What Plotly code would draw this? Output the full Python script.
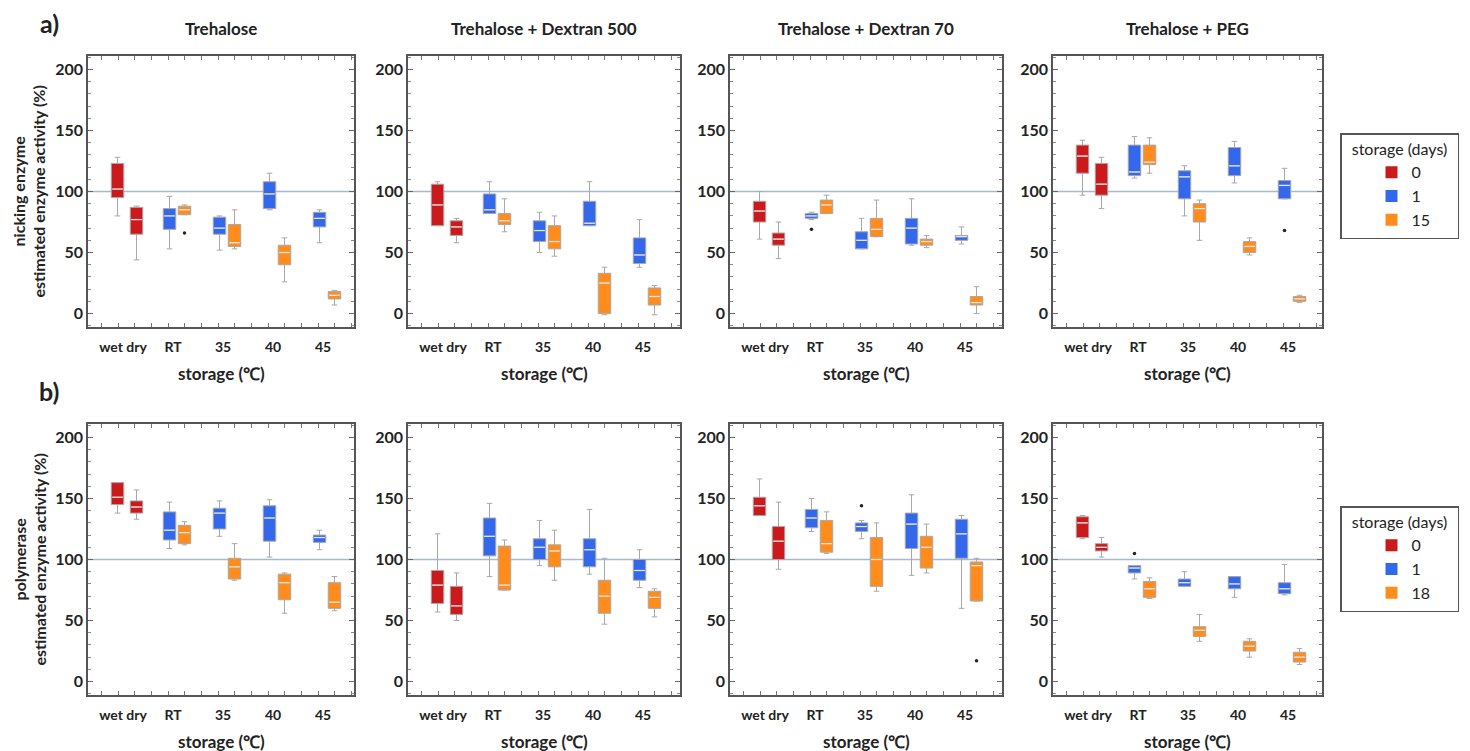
import plotly.graph_objects as go

# ---------------- data ----------------
X_LABELS = ["wet dry", "RT", "35", "40", "45"]
GROUP = [0, 0, 1, 1, 2, 2, 3, 3, 4, 4]
DAYS_A = ["0", "0", "1", "15", "1", "15", "1", "15", "1", "15"]
DAYS_B = ["0", "0", "1", "18", "1", "18", "1", "18", "1", "18"]
LEGEND_A = ["0", "1", "15"]
LEGEND_B = ["0", "1", "18"]
TITLES = ["Trehalose", "Trehalose + Dextran 500", "Trehalose + Dextran 70", "Trehalose + PEG"]
ROW_YTITLES = ["nicking enzyme<br>estimated enzyme activity (%)",
               "polymerase<br>estimated enzyme activity (%)"]
ROW_LABELS = ["a)", "b)"]
XTITLE = "storage (℃)"
LEGEND_TITLE = "storage (days)"

# order: wet, dry, RT d1, RT d15, 35 d1, 35 d15, 40 d1, 40 d15, 45 d1, 45 d15
# --- a) nicking enzyme
A1_HI = [128, 88, 96, 89, 80, 85, 115, 62, 85, 19]
A1_Q3 = [123, 87, 86, 88, 79, 73, 108, 56, 83, 18]
A1_MED = [102, 77, 80, 85, 70, 58, 98, 50, 78, 15]
A1_Q1 = [95, 65, 69, 81, 65, 55, 86, 40, 71, 12]
A1_LO = [80, 44, 53, 81, 52, 53, 85, 26, 58, 7]
A1_OUT = [(3, 66)]

A2_HI = [108, 78, 108, 94, 83, 80, 108, 38, 77, 23]
A2_Q3 = [106, 76, 98, 82, 76, 72, 92, 33, 62, 21]
A2_MED = [89, 71, 85, 76, 68, 59, 74, 25, 48, 14]
A2_Q1 = [72, 64, 82, 73, 59, 53, 72, 0, 41, 7]
A2_LO = [72, 58, 82, 67, 50, 47, 72, -1, 38, -1]
A2_OUT = []

A3_HI = [100, 75, 83, 97, 78, 93, 94, 64, 71, 22]
A3_Q3 = [92, 66, 82, 93, 67, 78, 78, 61, 64, 14]
A3_MED = [84, 61, 80, 89, 60, 69, 70, 59, 63, 9]
A3_Q1 = [75, 56, 78, 82, 53, 63, 57, 56, 60, 7]
A3_LO = [61, 45, 77, 82, 53, 63, 56, 54, 57, 0]
A3_OUT = [(2, 69)]

A4_HI = [142, 128, 145, 144, 121, 93, 141, 62, 119, 15]
A4_Q3 = [138, 123, 138, 138, 117, 90, 136, 59, 109, 14]
A4_MED = [129, 106, 116, 124, 112, 86, 121, 55, 105, 12]
A4_Q1 = [115, 97, 113, 122, 94, 75, 113, 50, 94, 10]
A4_LO = [97, 86, 111, 115, 80, 60, 107, 48, 94, 9]
A4_OUT = [(8, 68)]

# --- b) polymerase
B1_HI = [163, 157, 147, 131, 148, 113, 149, 89, 124, 86]
B1_Q3 = [163, 148, 139, 128, 142, 101, 144, 88, 120, 81]
B1_MED = [151, 143, 124, 122, 138, 94, 134, 81, 118, 65]
B1_Q1 = [145, 138, 116, 113, 125, 84, 115, 67, 114, 60]
B1_LO = [138, 133, 109, 112, 119, 83, 102, 56, 108, 58]
B1_OUT = []

B2_HI = [121, 89, 146, 116, 132, 124, 141, 101, 108, 76]
B2_Q3 = [91, 78, 134, 111, 117, 112, 117, 83, 100, 74]
B2_MED = [79, 62, 119, 79, 110, 107, 108, 70, 91, 69]
B2_Q1 = [64, 55, 103, 75, 100, 94, 94, 56, 83, 60]
B2_LO = [57, 50, 86, 75, 95, 83, 88, 47, 77, 53]
B2_OUT = []

B3_HI = [166, 147, 150, 139, 132, 130, 153, 129, 136, 101]
B3_Q3 = [151, 127, 141, 132, 130, 118, 138, 119, 133, 98]
B3_MED = [144, 115, 134, 113, 127, 100, 129, 110, 121, 95]
B3_Q1 = [136, 100, 126, 106, 123, 78, 109, 93, 101, 66]
B3_LO = [136, 92, 123, 105, 117, 74, 87, 89, 60, 66]
B3_OUT = [(4, 144), (9, 17)]

B4_HI = [136, 118, 95, 85, 90, 55, 86, 35, 96, 27]
B4_Q3 = [135, 113, 95, 82, 84, 45, 86, 33, 81, 24]
B4_MED = [130, 110, 93, 76, 81, 42, 80, 29, 76, 20]
B4_Q1 = [118, 107, 89, 69, 78, 37, 76, 25, 72, 16]
B4_LO = [117, 102, 84, 68, 78, 33, 69, 20, 71, 14]
B4_OUT = [(2, 105)]

PANELS = [
    (A1_LO, A1_Q1, A1_MED, A1_Q3, A1_HI, A1_OUT, DAYS_A),
    (A2_LO, A2_Q1, A2_MED, A2_Q3, A2_HI, A2_OUT, DAYS_A),
    (A3_LO, A3_Q1, A3_MED, A3_Q3, A3_HI, A3_OUT, DAYS_A),
    (A4_LO, A4_Q1, A4_MED, A4_Q3, A4_HI, A4_OUT, DAYS_A),
    (B1_LO, B1_Q1, B1_MED, B1_Q3, B1_HI, B1_OUT, DAYS_B),
    (B2_LO, B2_Q1, B2_MED, B2_Q3, B2_HI, B2_OUT, DAYS_B),
    (B3_LO, B3_Q1, B3_MED, B3_Q3, B3_HI, B3_OUT, DAYS_B),
    (B4_LO, B4_Q1, B4_MED, B4_Q3, B4_HI, B4_OUT, DAYS_B),
]

# ---------------- style / layout ----------------
W, H = 1470, 751
PAGE_MARGIN = 8          # default body margin of the html page
FW, FH = W - PAGE_MARGIN, H - PAGE_MARGIN
FONT = "Lato"
COLORS = {"0": "#cc1a1c", "1": "#3468ec", "15": "#ff8c1c", "18": "#ff8c1c"}
WHISK = "#a8a8a8"
OFFSET = [-0.19, 0.19, -0.15, 0.15, -0.15, 0.15, -0.15, 0.15, -0.15, 0.15]
BOXW = 0.25
LABEL_SHIFT = -0.08
PANEL_X = [(88, 354), (408, 680), (730, 1002), (1053, 1322)]
ROW_Y = [(56, 327), (424, 695)]
UNIT = 50.0       # px per group
LEFT_PAD = 39.0   # px from frame to first group
YRANGE = [-11, 211]


def fx(px):
    return (px - PAGE_MARGIN) / FW


def fy(py):
    return 1 - (py - PAGE_MARGIN) / FH


fig = go.Figure()
layout = dict(
    width=FW, height=FH, margin=dict(l=0, r=0, t=0, b=0),
    paper_bgcolor="white", plot_bgcolor="white",
    font=dict(family=FONT, color="#222"),
    boxmode="overlay", showlegend=True,
    annotations=[], shapes=[],
)

for k, (lo, q1, med, q3, hi, outl, days) in enumerate(PANELS):
    r, c = divmod(k, 4)
    n = k + 1
    xa, ya = ("x", "y") if n == 1 else (f"x{n}", f"y{n}")
    xkey, ykey = ("xaxis", "yaxis") if n == 1 else (f"xaxis{n}", f"yaxis{n}")
    x0, x1 = PANEL_X[c]
    y0, y1 = ROW_Y[r]
    pos = [GROUP[i] + OFFSET[i] for i in range(len(med))]
    for i in range(len(med)):
        fig.add_trace(go.Box(
            x=[pos[i]], q1=[q1[i]], median=[med[i]], q3=[q3[i]],
            lowerfence=[lo[i]], upperfence=[hi[i]],
            width=BOXW, whiskerwidth=0.45, boxpoints=False,
            fillcolor=COLORS[days[i]], line=dict(color=WHISK, width=1),
            showlegend=False, hoverinfo="skip", xaxis=xa, yaxis=ya))
    mx, my = [], []
    for i in range(len(med)):
        mx += [pos[i] - BOXW * 0.42, pos[i] + BOXW * 0.42, None]
        my += [med[i], med[i], None]
    fig.add_trace(go.Scatter(x=mx, y=my, mode="lines",
                             line=dict(color="rgba(255,255,255,0.75)", width=1.3),
                             showlegend=False, hoverinfo="skip", xaxis=xa, yaxis=ya))
    if outl:
        fig.add_trace(go.Scatter(x=[pos[i] for i, v in outl], y=[v for i, v in outl],
                                 mode="markers", marker=dict(color="#222", size=3.5),
                                 showlegend=False, hoverinfo="skip", xaxis=xa, yaxis=ya))
    wpx = x1 - x0
    layout[xkey] = dict(
        domain=[fx(x0), fx(x1)], anchor=ya,
        range=[-LEFT_PAD / UNIT, (wpx - LEFT_PAD) / UNIT],
        tickvals=[g + LABEL_SHIFT for g in range(len(X_LABELS))], ticktext=X_LABELS,
        ticks="", ticklabelstandoff=6,
        minor=dict(dtick=1 / 3, tick0=-0.18, ticks="inside", ticklen=4, tickcolor="#777"),
        showline=True, linecolor="#555", linewidth=1.5, mirror="allticks",
        showgrid=False, zeroline=False,
        tickfont=dict(family=FONT, size=14, color="#222", weight="bold"),
    )
    layout[ykey] = dict(
        domain=[fy(y1), fy(y0)], anchor=xa, range=YRANGE,
        tickvals=[0, 50, 100, 150, 200],
        ticks="inside", ticklen=5, tickcolor="#666",
        minor=dict(dtick=10, ticks="inside", ticklen=3, tickcolor="#888"),
        showline=True, linecolor="#555", linewidth=1.5, mirror="allticks",
        showgrid=False, zeroline=False,
        tickfont=dict(family=FONT, size=16, color="#222", weight="bold"),
    )
    # reference line at 100 %
    layout["shapes"].append(dict(type="line", xref=f"{xa} domain", yref=ya,
                                 x0=0, x1=1, y0=100, y1=100, layer="below",
                                 line=dict(color="#a9b9cc", width=1.3)))
    # x-axis title
    layout["annotations"].append(dict(
        text=XTITLE, x=fx((x0 + x1) / 2), y=fy(y1 + 46), xref="paper", yref="paper",
        showarrow=False, xanchor="center", yanchor="middle",
        font=dict(family=FONT, size=17, color="#222", weight="bold")))
    if r == 0:
        layout["annotations"].append(dict(
            text=TITLES[c], x=fx((x0 + x1) / 2), y=fy(28), xref="paper", yref="paper",
            showarrow=False, xanchor="center", yanchor="middle",
            font=dict(family=FONT, size=17, color="#222", weight="bold")))

for r in range(2):
    y0, y1 = ROW_Y[r]
    layout["annotations"].append(dict(
        text=ROW_YTITLES[r], x=fx(29), y=fy((y0 + y1) / 2), xref="paper", yref="paper",
        showarrow=False, textangle=-90, xanchor="center", yanchor="middle",
        font=dict(family=FONT, size=16, color="#222", weight="bold")))
    layout["annotations"].append(dict(
        text=ROW_LABELS[r], x=fx(49), y=fy(y0 - 33), xref="paper", yref="paper",
        showarrow=False, xanchor="center", yanchor="middle",
        font=dict(family=FONT, size=25, color="#222", weight="bold")))

# legends (one per row)
for r, (labels, lg) in enumerate([(LEGEND_A, "legend"), (LEGEND_B, "legend2")]):
    for lab in labels:
        fig.add_trace(go.Scatter(x=[None], y=[None], mode="markers", name=lab,
                                 marker=dict(symbol="square", size=11, color=COLORS[lab]),
                                 legend=lg, xaxis="x", yaxis="y"))
    ytop = 133 if r == 0 else 506
    layout[lg] = dict(
        x=fx(1340), y=fy(ytop), xanchor="left", yanchor="top",
        bordercolor="#555", borderwidth=1.5, bgcolor="white",
        title=dict(text="&nbsp;&nbsp;" + LEGEND_TITLE + "&nbsp;&nbsp;", side="top center",
                   font=dict(family=FONT, size=16, color="#222")),
        font=dict(family=FONT, size=16, color="#222"),
        itemsizing="constant", tracegroupgap=0, indentation=30,
    )

fig.update_layout(**layout)
fig.write_html("out.html")
